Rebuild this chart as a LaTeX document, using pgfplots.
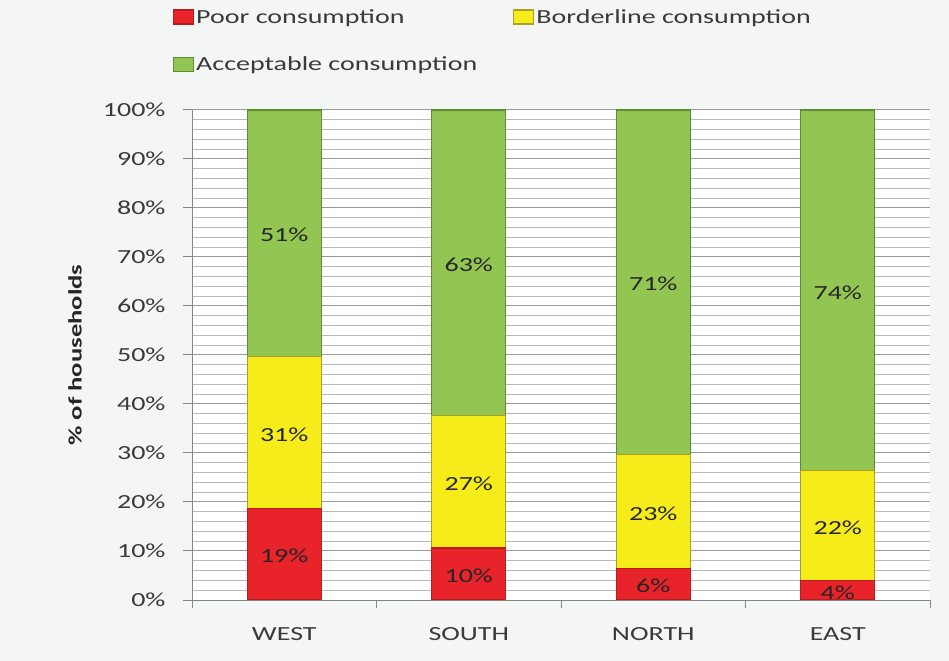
\documentclass[border=0pt]{standalone}
\usepackage{pgfplots}
\pgfplotsset{compat=1.18}
\usepackage{pgfplotstable}
\usepackage{fontspec}
\setmainfont{Carlito}[FakeStretch=1.4]

\definecolor{bgcol}{HTML}{F4F5F5}
\definecolor{poorfill}{HTML}{E8232A}
\definecolor{poordraw}{HTML}{B71C1F}
\definecolor{bordfill}{HTML}{F6EC1A}
\definecolor{borddraw}{HTML}{A9A127}
\definecolor{accfill}{HTML}{93C553}
\definecolor{accdraw}{HTML}{5F8B33}
\definecolor{txt}{HTML}{3A3A3A}
\definecolor{axiscol}{HTML}{868686}

% shares of households; labels as printed
\pgfplotstableread{
x poor border acc pl bl al
0 18.7 31.0 50.3 19 31 51
1 10.6 27.1 62.3 10 27 63
2 6.5  23.2 70.3 6  23 71
3 3.9  22.5 73.6 4  22 74
}\data
% middle of each segment, for the labels
\pgfplotstablecreatecol[expr={\thisrow{poor}/2}]{pm}{\data}
\pgfplotstablecreatecol[expr={\thisrow{poor}+\thisrow{border}/2}]{bm}{\data}
\pgfplotstablecreatecol[expr={\thisrow{poor}+\thisrow{border}+\thisrow{acc}/2}]{am}{\data}

\pgfplotsset{
    frame/.style={
        at={(192bp,61bp)}, anchor=south west,
        scale only axis, width=738bp, height=490bp,
        xmin=-0.5, xmax=3.5, ymin=0, ymax=100,
    },
}

\begin{document}
\begin{tikzpicture}[font=\fontsize{20bp}{24bp}\selectfont]
\useasboundingbox (0bp,0bp) rectangle (949bp,661bp);
\fill[bgcol] (0bp,0bp) rectangle (949bp,661bp);
\begin{axis}[
    frame,
    ybar stacked, bar width=74bp,
    xtick={0,1,2,3}, xticklabels={WEST,SOUTH,NORTH,EAST},
    minor xtick={-0.5,0.5,1.5,2.5,3.5},
    ytick={0,10,...,100},
    yticklabels={0\%,10\%,20\%,30\%,40\%,50\%,60\%,70\%,80\%,90\%,100\%},
    minor y tick num=4,
    ymajorgrids, yminorgrids,
    major grid style={draw=black!40, line width=1bp},
    minor grid style={draw=black!27, line width=1bp},
    axis x line*=bottom, axis y line*=left,
    axis line style={axiscol, line width=1bp},
    tick align=outside,
    major tick length=9bp, minor tick length=8bp,
    major x tick style={draw=none},
    minor x tick style={axiscol, line width=1bp},
    major y tick style={axiscol, line width=1bp},
    minor y tick style={draw=none},
    axis background/.style={fill=white},
    yticklabel style={text=txt, xshift=-14bp},
    xticklabel style={text=txt, yshift=-15bp},
    ylabel={\fontsize{19bp}{23bp}\selectfont\bfseries\% of households},
    every axis y label/.style={at={(rel axis cs:0,0.5)}, xshift=-117bp, rotate=90, anchor=center, text=black!85},
    legend columns=2,
    legend cell align=left,
    legend style={at={(-0.03,1.214)}, anchor=north west, draw=none, fill=none,
        text=txt, row sep=28bp,
        /tikz/every even column/.append style={column sep=34bp}},
    legend image code/.code={\draw[#1] (0bp,-7bp) rectangle (20bp,7bp);},
]
\addplot[fill=poorfill, draw=poordraw, line width=1.2bp] table[x=x, y=poor] {\data};
\addplot[fill=bordfill, draw=borddraw, line width=1.2bp] table[x=x, y=border] {\data};
\addplot[fill=accfill, draw=accdraw, line width=1.2bp] table[x=x, y=acc] {\data};
\legend{Poor consumption, Borderline consumption, Acceptable consumption}
\end{axis}
\begin{axis}[
    frame, hide axis, clip=false,
    point meta=explicit symbolic,
    nodes near coords={\pgfplotspointmeta\%},
    every node near coord/.append style={anchor=center, text=black!85, yshift=-2bp},
]
\addplot[draw=none, mark=none] table[x=x, y=pm, meta=pl] {\data};
\addplot[draw=none, mark=none] table[x=x, y=bm, meta=bl] {\data};
\addplot[draw=none, mark=none] table[x=x, y=am, meta=al] {\data};
\end{axis}
\end{tikzpicture}
\end{document}
